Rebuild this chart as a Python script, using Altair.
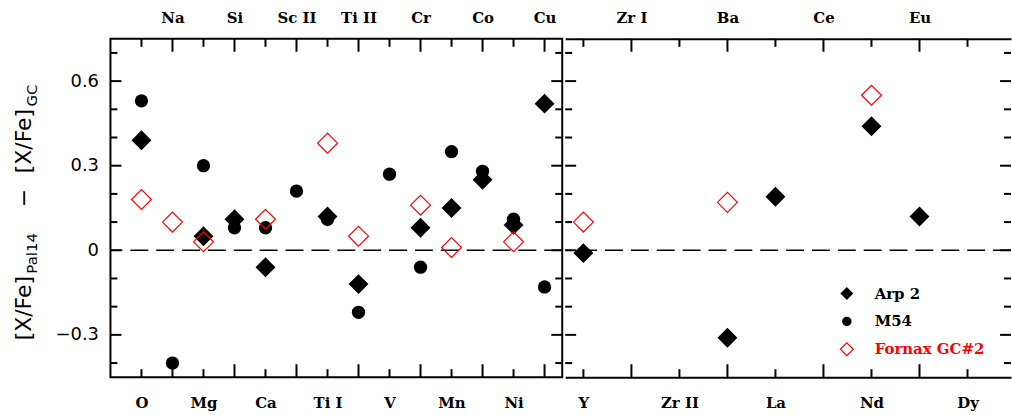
import altair as alt
import pandas as pd

# ---------------- data ----------------
LEFT_ELEMS = ["O", "Na", "Mg", "Si", "Ca", "Sc II", "Ti I", "Ti II", "V", "Cr", "Mn", "Co", "Ni", "Cu"]
RIGHT_ELEMS = ["Y", "Zr I", "Zr II", "Ba", "La", "Ce", "Nd", "Eu", "Dy"]

ARP2_LEFT = [0.39, None, 0.05, 0.11, -0.06, None, 0.12, -0.12, None, 0.08, 0.15, 0.25, 0.09, 0.52]
M54_LEFT = [0.53, -0.40, 0.30, 0.08, 0.08, 0.21, 0.11, -0.22, 0.27, -0.06, 0.35, 0.28, 0.11, -0.13]
FORNAX_LEFT = [0.18, 0.10, 0.03, None, 0.11, None, 0.38, 0.05, None, 0.16, 0.01, None, 0.03, None]

ARP2_RIGHT = [-0.01, None, None, -0.31, 0.19, None, 0.44, 0.12, None]
FORNAX_RIGHT = [0.10, None, None, 0.17, None, None, 0.55, None, None]

SERIES = ["Arp 2", "M54", "Fornax GC#2"]
Y_MAJOR = [-0.3, 0.0, 0.3, 0.6]
Y_MINOR = [-0.4, -0.2, -0.1, 0.1, 0.2, 0.4, 0.5, 0.7]
Y_DOMAIN = [-0.45, 0.75]

# ---------------- layout ----------------
H = 340
W_L, W_R = 454, 448
XDOM_L = [0.0, 14.57]
XDOM_R = [0.621, 9.906]
LAB_FONT = "DejaVu Serif"
NUM_FONT = "DejaVu Sans"
X_MAJ, X_MIN = 13, 8
Y_MAJ, Y_MIN = 11, 7


def long_df(elems, series_vals):
    rows = []
    for name, vals in series_vals.items():
        for i, v in enumerate(vals):
            if v is not None:
                rows.append({"elem": elems[i], "pos": i + 1, "val": v, "series": name})
    return pd.DataFrame(rows, columns=["elem", "pos", "val", "series"])


def x_axis(orient, values, names_js, domain):
    return alt.Axis(
        orient=orient, values=values, labelExpr=f"{names_js}[datum.value - 1]",
        ticks=False, domain=domain, domainColor="black", domainWidth=2, grid=False,
        title="", labelPadding=16 if orient == "top" else 30, labelBaseline="alphabetic",
        labelFont=LAB_FONT, labelFontSize=15, labelFontWeight="bold", labelColor="black",
        labelFlush=False, labelOverlap=False,
    )


def panel(elems, df, xdom, width, left_panel):
    xs = alt.Scale(domain=xdom, nice=False, zero=False)
    ys = alt.Scale(domain=Y_DOMAIN, nice=False, zero=False)
    n = len(elems)
    names_js = "[" + ",".join("'" + e + "'" for e in elems) + "]"
    even = [p for p in range(1, n + 1) if p % 2 == 0]
    odd = [p for p in range(1, n + 1) if p % 2 == 1]
    dom = not left_panel
    layers = []

    # x ticks (inward) and the axis labels they carry
    top_maj = alt.Chart(pd.DataFrame({"pos": even})).mark_rule(color="black", strokeWidth=2).encode(
        x=alt.X("pos:Q", scale=xs, axis=x_axis("top", even, names_js, dom)),
        y=alt.value(0), y2=alt.value(X_MAJ))
    top_min = alt.Chart(pd.DataFrame({"pos": odd})).mark_rule(color="black", strokeWidth=2).encode(
        x=alt.X("pos:Q", scale=xs, axis=None), y=alt.value(0), y2=alt.value(X_MIN))
    bot_maj = alt.Chart(pd.DataFrame({"pos": even})).mark_rule(color="black", strokeWidth=2).encode(
        x=alt.X("pos:Q", scale=xs, axis=None), y=alt.value(H), y2=alt.value(H - X_MAJ))
    bot_min = alt.Chart(pd.DataFrame({"pos": odd})).mark_rule(color="black", strokeWidth=2).encode(
        x=alt.X("pos:Q", scale=xs, axis=x_axis("bottom", odd, names_js, dom)),
        y=alt.value(H), y2=alt.value(H - X_MIN))
    layers += [top_maj, top_min, bot_maj, bot_min]

    # y ticks on both sides (inward)
    for vals, ln in ((Y_MAJOR, Y_MAJ), (Y_MINOR, Y_MIN)):
        d = pd.DataFrame({"v": vals})
        layers.append(alt.Chart(d).mark_rule(color="black", strokeWidth=2).encode(
            y=alt.Y("v:Q", scale=ys, axis=None), x=alt.value(0), x2=alt.value(ln)))
        layers.append(alt.Chart(d).mark_rule(color="black", strokeWidth=2).encode(
            y=alt.Y("v:Q", scale=ys, axis=None), x=alt.value(width), x2=alt.value(width - ln)))

    # dashed zero line
    layers.append(alt.Chart(pd.DataFrame({"z": [0.0]})).mark_rule(
        color="black", strokeWidth=1.5, strokeDash=[18, 8]).encode(
        y=alt.Y("z:Q", scale=ys, axis=None)))

    if left_panel:
        yax = alt.Axis(orient="left", values=Y_MAJOR,
                       labelExpr="datum.value == 0 ? '0' : format(datum.value, '.1f')",
                       ticks=False, domain=False, grid=False, title="", labelPadding=12,
                       labelFont=NUM_FONT, labelFontSize=18, labelColor="black")
    else:
        yax = None

    styles = {
        "M54": dict(shape="circle", filled=True, size=180, color="black"),
        "Arp 2": dict(shape="diamond", filled=True, size=400, color="black"),
        "Fornax GC#2": dict(shape="diamond", filled=False, size=400, color="red", strokeWidth=1.2),
    }
    first = True
    for s in ["M54", "Arp 2", "Fornax GC#2"]:
        sub = df[df.series == s]
        if sub.empty:
            continue
        ax = yax if first else None
        first = False
        enc_y = alt.Y("val:Q", scale=ys, axis=ax) if ax is not None else alt.Y("val:Q", scale=ys, axis=None)
        layers.append(alt.Chart(sub).mark_point(opacity=1, **styles[s]).encode(
            x=alt.X("pos:Q", scale=xs, axis=None), y=enc_y))

    if left_panel:
        # y-axis title with subscripts
        def t(txt, x, y, size, align="left"):
            return alt.Chart(pd.DataFrame({"a": [0]})).mark_text(
                text=txt, angle=270, align=align, baseline="alphabetic",
                font=NUM_FONT, fontSize=size, color="black").encode(
                x=alt.value(x), y=alt.value(y))
        layers += [
            t("[X/Fe]", -80, 303, 22),
            t("Pal14", -74, 236, 15),
            t("\u2212", -80, 160, 22, "center"),
            t("[X/Fe]", -80, 135, 22),
            t("GC", -74, 68, 15),
        ]
    else:
        # legend drawn inside the right panel
        leg_y = [256, 284, 312]
        sym = [
            dict(shape="diamond", filled=True, size=169, color="black"),
            dict(shape="circle", filled=True, size=90, color="black"),
            dict(shape="diamond", filled=False, size=169, color="red", strokeWidth=1.2),
        ]
        cols = ["black", "black", "red"]
        for i, name in enumerate(SERIES):
            one = pd.DataFrame({"a": [0]})
            layers.append(alt.Chart(one).mark_point(opacity=1, **sym[i]).encode(
                x=alt.value(283), y=alt.value(leg_y[i])))
            layers.append(alt.Chart(one).mark_text(
                text=name, align="left", baseline="middle", font=LAB_FONT, fontSize=15,
                fontWeight="bold", color=cols[i]).encode(
                x=alt.value(311), y=alt.value(leg_y[i])))

    ch = alt.layer(*layers).resolve_axis(x="independent", y="independent").properties(
        width=width, height=H)
    if not left_panel:
        ch = ch.properties(view=alt.ViewBackground(strokeOpacity=0))
    return ch


left_df = long_df(LEFT_ELEMS, {"Arp 2": ARP2_LEFT, "M54": M54_LEFT, "Fornax GC#2": FORNAX_LEFT})
right_df = long_df(RIGHT_ELEMS, {"Arp 2": ARP2_RIGHT, "Fornax GC#2": FORNAX_RIGHT})

left = panel(LEFT_ELEMS, left_df, XDOM_L, W_L, True)
right = panel(RIGHT_ELEMS, right_df, XDOM_R, W_R, False)

chart = alt.hconcat(left, right, spacing=0).properties(
    padding={"left": 12, "top": 9, "right": 0, "bottom": 0},
    background="white",
).configure_view(stroke="black", strokeWidth=2)

chart.save("out.html", embed_options={"renderer": "svg", "actions": False})
